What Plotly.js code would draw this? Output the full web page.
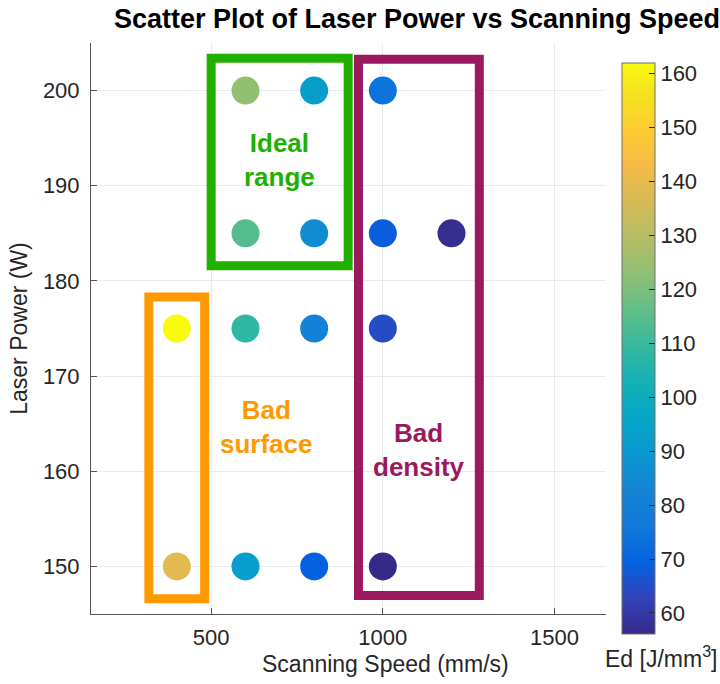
<!DOCTYPE html>
<html>
<head>
<meta charset="utf-8">
<script src="https://cdn.plot.ly/plotly-3.0.1.min.js"></script>
<style>html,body{margin:0;padding:0;background:#fff;}#chart{width:720px;height:684px;}</style>
</head>
<body>
<div id="chart"></div>
<script>
// Data
const scanSpeed = [400, 400, 600, 600, 600, 600, 800, 800, 800, 800, 1000, 1000, 1000, 1000, 1200];
const laserPower = [175, 150, 200, 185, 175, 150, 200, 185, 175, 150, 200, 185, 175, 150, 185];
const energyDensity = [162.0, 139.0, 123.5, 114.0, 108.0, 92.5, 92.5, 85.6, 81.0, 69.4, 74.0, 68.5, 64.8, 56.1, 57.1];

const xTicks = [500, 1000, 1500];
const yTicks = [150, 160, 170, 180, 190, 200];
const cbTicks = [60, 70, 80, 90, 100, 110, 120, 130, 140, 150, 160];

const chartTitle = 'Scatter Plot of Laser Power vs Scanning Speed';
const xTitle = 'Scanning Speed (mm/s)';
const yTitle = 'Laser Power (W)';
const cbTitle = 'Ed [J/mm<sup>3</sup>]';

const regionLabels = ['Ideal<br>range', 'Bad<br>surface', 'Bad<br>density'];
const regionLabelX = [699, 660, 1104];
const regionLabelY = [192.7, 164.7, 162.2];
// region boxes: [x0, x1, y0, y1]
const regionBoxX0 = [500, 318.5, 929];
const regionBoxX1 = [899, 481, 1281];
const regionBoxY0 = [181.6, 146.6, 146.95];
const regionBoxY1 = [203.4, 178.3, 203.3];
const regionColors = ['rgb(32,176,0)', 'rgb(255,153,0)', 'rgb(155,25,95)'];

// MATLAB parula colormap (subsampled)
const parula = [
  [0.2081,0.1663,0.5292],[0.1959,0.2645,0.7279],[0.0117,0.3875,0.8820],[0.0629,0.4737,0.8554],
  [0.0793,0.5200,0.8312],[0.0343,0.5966,0.8199],[0.0228,0.6535,0.7768],[0.0843,0.6928,0.7062],
  [0.2178,0.7250,0.6193],[0.3953,0.7459,0.5244],[0.5709,0.7485,0.4494],[0.7184,0.7411,0.3905],
  [0.8507,0.7299,0.3360],[0.9739,0.7314,0.2666],[0.9880,0.8066,0.1794],[0.9589,0.8949,0.1132],
  [0.9763,0.9831,0.0538]
];
const parulaIdx = [0,4,8,12,16,20,24,28,32,36,40,44,48,52,56,60,63];
const colorscale = parula.map((c, i) => [parulaIdx[i] / 63,
  'rgb(' + Math.round(c[0]*255) + ',' + Math.round(c[1]*255) + ',' + Math.round(c[2]*255) + ')']);

const fontFam = 'Liberation Sans, Arial, Helvetica, sans-serif';
const W = 720, H = 684;
const M = {l: 91, r: 114, t: 43, b: 70};
const plotW = W - M.l - M.r, plotH = H - M.t - M.b;
// pixel -> paper helpers (for placing free text like MATLAB)
const px2paperX = px => (px - M.l) / plotW;
const py2paperY = py => (H - M.b - py) / plotH;

const trace = {
  type: 'scatter',
  mode: 'markers',
  x: scanSpeed,
  y: laserPower,
  marker: {
    size: 28,
    color: energyDensity,
    colorscale: colorscale,
    line: {width: 0},
    colorbar: {
      xref: 'paper', x: px2paperX(622), xanchor: 'left',
      yref: 'paper', y: py2paperY(63), yanchor: 'top',
      lenmode: 'pixels', len: 571,
      thicknessmode: 'pixels', thickness: 33,
      xpad: 0, ypad: 0,
      outlinecolor: '#6e6e6e', outlinewidth: 1,
      tickmode: 'array', tickvals: cbTicks,
      ticks: 'inside', ticklen: 6, tickcolor: '#262626',
      ticklabelstandoff: 4,
      tickfont: {family: fontFam, size: 22, color: '#262626'}
    }
  },
  hoverinfo: 'x+y'
};

const shapes = regionBoxX0.map((x0, i) => ({
  type: 'rect', xref: 'x', yref: 'y',
  x0: x0, x1: regionBoxX1[i], y0: regionBoxY0[i], y1: regionBoxY1[i],
  line: {color: regionColors[i], width: 9}, fillcolor: 'rgba(0,0,0,0)', layer: 'above'
}));

const annotations = regionLabels.map((t, i) => ({
  text: t, x: regionLabelX[i], y: regionLabelY[i], xref: 'x', yref: 'y',
  showarrow: false, xanchor: 'center', yanchor: 'middle',
  font: {family: fontFam, size: 26, color: regionColors[i], weight: 'bold'}
}));
annotations.push({
  text: xTitle, xref: 'paper', yref: 'paper', x: px2paperX(385), y: py2paperY(664),
  xanchor: 'center', yanchor: 'middle', showarrow: false,
  font: {family: fontFam, size: 23, color: '#262626'}
});
annotations.push({
  text: cbTitle, xref: 'paper', yref: 'paper', x: px2paperX(661), y: py2paperY(657),
  xanchor: 'center', yanchor: 'middle', showarrow: false,
  font: {family: fontFam, size: 23, color: '#262626'}
});

const layout = {
  width: W, height: H,
  margin: M,
  paper_bgcolor: '#ffffff', plot_bgcolor: '#ffffff',
  showlegend: false,
  title: {
    text: '<b>' + chartTitle + '</b>',
    font: {family: fontFam, size: 27, color: '#000000'},
    x: 417/720, xanchor: 'center', y: 1 - 19/684, yanchor: 'middle', xref: 'container', yref: 'container'
  },
  xaxis: {
    range: [150, 1650],
    tickmode: 'array', tickvals: xTicks,
    ticks: 'inside', ticklen: 6, tickcolor: '#555',
    showline: true, linecolor: '#555', linewidth: 1,
    showgrid: true, gridcolor: '#ebebeb', gridwidth: 1,
    zeroline: false, mirror: false,
    ticklabelstandoff: 4,
    tickfont: {family: fontFam, size: 22, color: '#262626'}
  },
  yaxis: {
    range: [145, 205],
    tickmode: 'array', tickvals: yTicks,
    ticks: 'inside', ticklen: 6, tickcolor: '#555',
    showline: true, linecolor: '#555', linewidth: 1,
    showgrid: true, gridcolor: '#ebebeb', gridwidth: 1,
    zeroline: false, mirror: false,
    ticklabelstandoff: 6,
    tickfont: {family: fontFam, size: 22, color: '#262626'},
    title: {text: yTitle, font: {family: fontFam, size: 23, color: '#262626'}, standoff: 8}
  },
  shapes: shapes,
  annotations: annotations
};

Plotly.newPlot('chart', [trace], layout, {displayModeBar: false, staticPlot: true});
</script>
</body>
</html>
